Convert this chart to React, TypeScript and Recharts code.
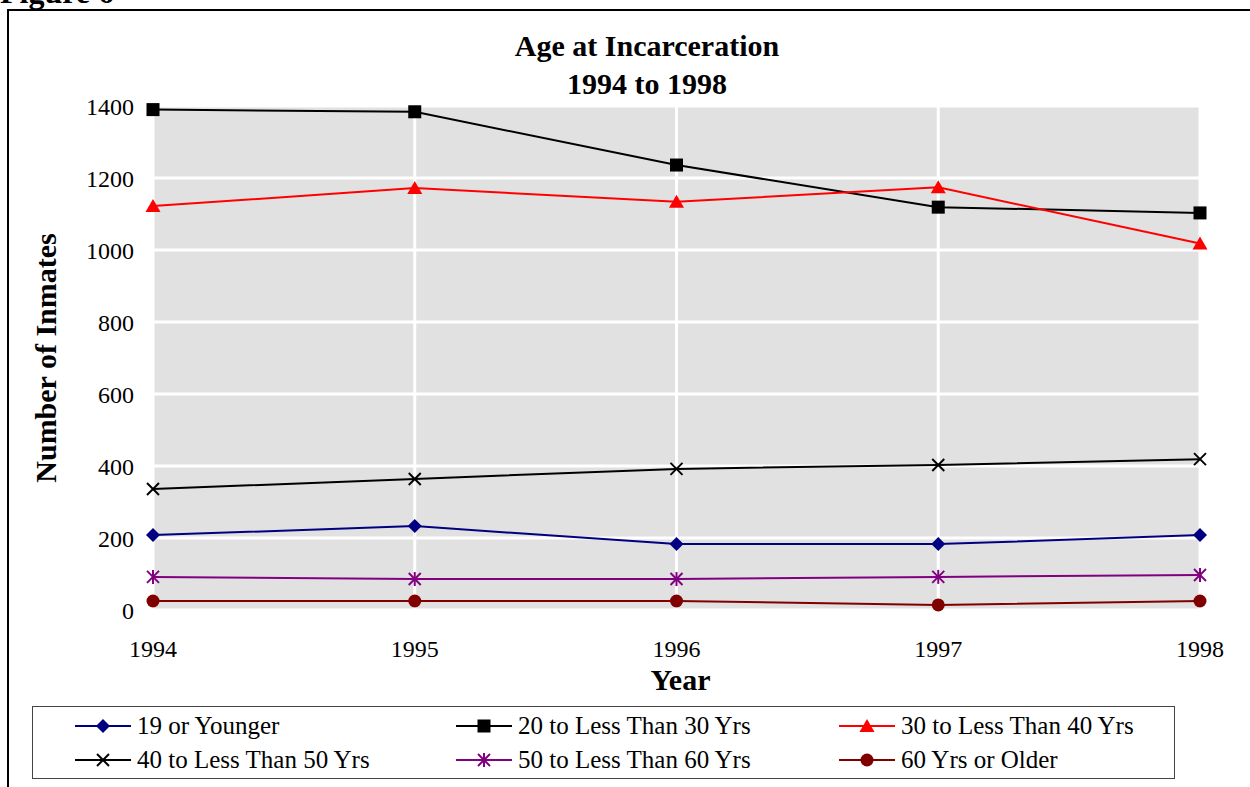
import React from "react";
import { CartesianGrid, Line, LineChart, XAxis, YAxis } from "recharts";

const years = ["1994", "1995", "1996", "1997", "1998"];
const age19OrYounger = [208, 233, 183, 183, 208];
const age20to30 = [1390, 1384, 1236, 1119, 1103];
const age30to40 = [1122, 1172, 1134, 1174, 1018];
const age40to50 = [336, 364, 392, 403, 419];
const age50to60 = [92, 86, 86, 92, 97];
const age60OrOlder = [25, 25, 25, 14, 25];
const yTicks = [0, 200, 400, 600, 800, 1000, 1200, 1400];

const data = years.map((year, i) => ({
  year,
  a19: age19OrYounger[i],
  a20: age20to30[i],
  a30: age30to40[i],
  a40: age40to50[i],
  a50: age50to60[i],
  a60: age60OrOlder[i],
}));

type Shape = "diamond" | "square" | "triangle" | "x" | "star" | "circle";

const series: Array<{ key: string; name: string; color: string; shape: Shape }> = [
  { key: "a19", name: "19 or Younger", color: "#000080", shape: "diamond" },
  { key: "a20", name: "20 to Less Than 30 Yrs", color: "#000000", shape: "square" },
  { key: "a30", name: "30 to Less Than 40 Yrs", color: "#ff0000", shape: "triangle" },
  { key: "a40", name: "40 to Less Than 50 Yrs", color: "#000000", shape: "x" },
  { key: "a50", name: "50 to Less Than 60 Yrs", color: "#800080", shape: "star" },
  { key: "a60", name: "60 Yrs or Older", color: "#800000", shape: "circle" },
];

const serif = "'Liberation Serif', 'Times New Roman', serif";

function Marker({ shape, color, cx, cy }: { shape: Shape; color: string; cx: number; cy: number }) {
  switch (shape) {
    case "diamond":
      return <polygon points={`${cx},${cy - 7} ${cx + 7},${cy} ${cx},${cy + 7} ${cx - 7},${cy}`} fill={color} />;
    case "square":
      return <rect x={cx - 6.5} y={cy - 6.5} width={13} height={13} fill={color} />;
    case "triangle":
      return <polygon points={`${cx},${cy - 7} ${cx + 7.5},${cy + 6} ${cx - 7.5},${cy + 6}`} fill={color} />;
    case "x":
      return (
        <g stroke={color} strokeWidth={2}>
          <line x1={cx - 6} y1={cy - 6} x2={cx + 6} y2={cy + 6} />
          <line x1={cx - 6} y1={cy + 6} x2={cx + 6} y2={cy - 6} />
        </g>
      );
    case "star":
      return (
        <g stroke={color} strokeWidth={2}>
          <line x1={cx - 6} y1={cy - 6} x2={cx + 6} y2={cy + 6} />
          <line x1={cx - 6} y1={cy + 6} x2={cx + 6} y2={cy - 6} />
          <line x1={cx} y1={cy - 7} x2={cx} y2={cy + 7} />
        </g>
      );
    default:
      return <circle cx={cx} cy={cy} r={6.5} fill={color} />;
  }
}

function LegendBox() {
  return (
    <div
      style={{
        position: "absolute",
        left: 32,
        top: 706,
        width: 1143,
        height: 73,
        border: "1px solid #444",
        display: "grid",
        gridTemplateColumns: "381px 383px 379px",
        gridTemplateRows: "34px 34px",
        paddingTop: 2,
        boxSizing: "border-box",
        fontFamily: serif,
        fontSize: 25,
      }}
    >
      {series.map((s) => (
        <div key={s.key} style={{ display: "flex", alignItems: "center", paddingLeft: 42 }}>
          <svg width={56} height={20} style={{ flex: "none" }}>
            <line x1={0} y1={10} x2={56} y2={10} stroke={s.color} strokeWidth={2} />
            <Marker shape={s.shape} color={s.color} cx={28} cy={10} />
          </svg>
          <span style={{ marginLeft: 6, whiteSpace: "nowrap", lineHeight: "30px" }}>{s.name}</span>
        </div>
      ))}
    </div>
  );
}

export default function App() {
  return (
    <div style={{ position: "absolute", left: 0, top: 0, width: 1250, height: 787, overflow: "hidden", background: "#fff" }}>
      <div
        style={{
          position: "absolute",
          left: 0,
          top: -24,
          fontFamily: serif,
          fontWeight: "bold",
          fontSize: 32,
          lineHeight: "32px",
          whiteSpace: "nowrap",
        }}
      >
        Figure 6
      </div>
      <div style={{ position: "absolute", left: 7, top: 9, width: 1300, height: 820, border: "2px solid #000" }} />
      <div
        style={{
          position: "absolute",
          left: 447,
          top: 27,
          width: 400,
          textAlign: "center",
          fontFamily: serif,
          fontWeight: "bold",
          fontSize: 30,
          lineHeight: "38px",
        }}
      >
        <div>Age at Incarceration</div>
        <div>1994 to 1998</div>
      </div>
      <div style={{ position: "absolute", left: 0, top: 0 }}>
        <LineChart width={1250} height={787} data={data} margin={{ top: 106, right: 50, bottom: 117, left: 13 }}>
          <CartesianGrid fill="#e1e1e1" fillOpacity={1} stroke="#ffffff" strokeWidth={3} />
          <XAxis
            dataKey="year"
            axisLine={false}
            tickLine={false}
            tickSize={0}
            tickMargin={30}
            height={60}
            tick={{ fill: "#000", fontSize: 24, fontFamily: serif }}
            label={{ value: "Year", position: "bottom", offset: -1, fill: "#000", fontSize: 30, fontWeight: "bold", fontFamily: serif, dx: 4 }}
          />
          <YAxis
            domain={[0, 1400]}
            ticks={yTicks}
            axisLine={false}
            tickLine={false}
            tickSize={0}
            tickMargin={19}
            width={140}
            tick={{ fill: "#000", fontSize: 24, fontFamily: serif }}
            label={{
              value: "Number of Inmates",
              angle: -90,
              position: "insideLeft",
              offset: 32,
              fill: "#000",
              fontSize: 30,
              fontWeight: "bold",
              fontFamily: serif,
              style: { textAnchor: "middle" },
            }}
          />
          {series.map((s) => (
            <Line
              key={s.key}
              dataKey={s.key}
              name={s.name}
              type="linear"
              stroke={s.color}
              strokeWidth={2}
              isAnimationActive={false}
              activeDot={false}
              dot={(p: any) => <Marker key={`${s.key}-${p.index}`} shape={s.shape} color={s.color} cx={p.cx} cy={p.cy} />}
            />
          ))}
        </LineChart>
      </div>
      <LegendBox />
    </div>
  );
}
